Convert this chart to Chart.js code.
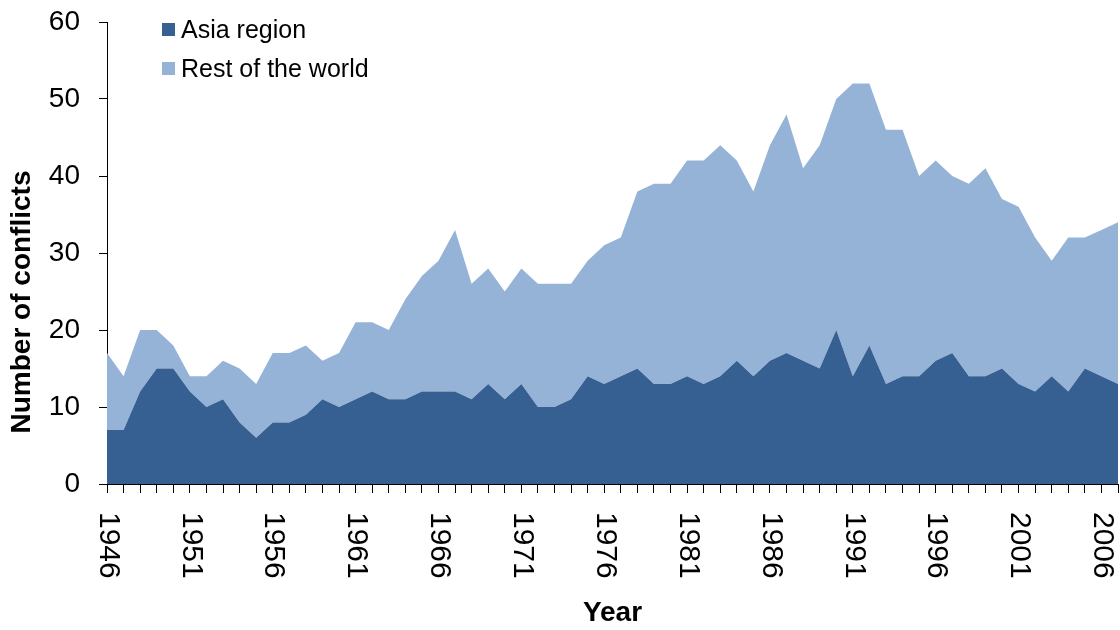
<!DOCTYPE html>
<html>
<head>
<meta charset="utf-8">
<script src="https://cdn.jsdelivr.net/npm/chart.js@4.4.1/dist/chart.umd.min.js"></script>
<style>
  html, body { margin: 0; padding: 0; background: #fff; }
  #wrap { width: 1120px; height: 630px; }
</style>
</head>
<body>
<div id="wrap"><canvas id="myChart"></canvas></div>
<script>
const years = [
  '1946','1947','1948','1949','1950','1951','1952','1953','1954','1955',
  '1956','1957','1958','1959','1960','1961','1962','1963','1964','1965',
  '1966','1967','1968','1969','1970','1971','1972','1973','1974','1975',
  '1976','1977','1978','1979','1980','1981','1982','1983','1984','1985',
  '1986','1987','1988','1989','1990','1991','1992','1993','1994','1995',
  '1996','1997','1998','1999','2000','2001','2002','2003','2004','2005',
  '2006','2007'
];

const asiaRegion = [
  7, 7, 12, 15, 15, 12, 10, 11, 8, 6,
  8, 8, 9, 11, 10, 11, 12, 11, 11, 12,
  12, 12, 11, 13, 11, 13, 10, 10, 11, 14,
  13, 14, 15, 13, 13, 14, 13, 14, 16, 14,
  16, 17, 16, 15, 20, 14, 18, 13, 14, 14,
  16, 17, 14, 14, 15, 13, 12, 14, 12, 15,
  14, 13
];

const restOfWorld = [
  10, 7, 8, 5, 3, 2, 4, 5, 7, 7,
  9, 9, 9, 5, 7, 10, 9, 9, 13, 15,
  17, 21, 15, 15, 14, 15, 16, 16, 15, 15,
  18, 18, 23, 26, 26, 28, 29, 30, 26, 24,
  28, 31, 25, 29, 30, 38, 34, 33, 32, 26,
  26, 23, 25, 27, 22, 23, 20, 15, 20, 17,
  19, 21
];

// only every 5th year gets a label
const shownYears = ['1946','1951','1956','1961','1966','1971','1976','1981','1986','1991','1996','2001','2006'];

const ctx = document.getElementById('myChart').getContext('2d');

// x labels read top to bottom, legend + y title placed like the original
const extras = {
  id: 'extras',
  afterDraw(chart) {
    const c = chart.ctx;
    const xs = chart.scales.x;
    c.save();
    c.fillStyle = '#000';
    c.font = '30px "Liberation Sans", Arial, sans-serif';
    c.textAlign = 'left';
    c.textBaseline = 'middle';
    shownYears.forEach(y => {
      const px = xs.getPixelForValue(years.indexOf(y));
      c.save();
      c.translate(px + 1, xs.top + 28);
      c.rotate(Math.PI / 2);
      c.fillText(y, 0, 0);
      c.restore();
    });

    // y axis title
    c.save();
    c.font = 'bold 28px "Liberation Sans", Arial, sans-serif';
    c.textAlign = 'center';
    c.translate(22, 302);
    c.rotate(-Math.PI / 2);
    c.fillText('Number of conflicts', 0, 0);
    c.restore();

    // legend
    c.font = '25px "Liberation Sans", Arial, sans-serif';
    c.textAlign = 'left';
    chart.data.datasets.forEach((ds, i) => {
      const y = 30 + i * 39;
      c.fillStyle = ds.backgroundColor;
      c.fillRect(162, y - 7, 13, 13);
      c.fillStyle = '#000';
      c.fillText(ds.label, 181, y + 1);
    });
    c.restore();
  }
};

let myAreaChart = new Chart(ctx, {
  type: 'line',
  data: {
    labels: years,
    datasets: [{
      label: 'Asia region',
      data: asiaRegion,
      backgroundColor: '#376092',
      borderColor: '#376092',
      borderWidth: 0,
      pointRadius: 0,
      fill: 'origin'
    }, {
      label: 'Rest of the world',
      data: restOfWorld,
      backgroundColor: '#95b3d7',
      borderColor: '#95b3d7',
      borderWidth: 0,
      pointRadius: 0,
      fill: '-1'
    }]
  },
  options: {
    responsive: true,
    maintainAspectRatio: false,
    animation: false,
    layout: {
      padding: { top: 22, right: 2, left: 0, bottom: 0 }
    },
    plugins: {
      legend: { display: false },
      tooltip: { enabled: false }
    },
    elements: { line: { tension: 0 } },
    scales: {
      x: {
        offset: false,
        grid: { drawOnChartArea: false, drawTicks: true, tickLength: 9, color: '#000' },
        border: { color: '#000', width: 1 },
        ticks: { display: false },
        title: {
          display: true,
          text: 'Year',
          color: '#000',
          font: { family: '"Liberation Sans", Arial, sans-serif', size: 28, weight: 'bold' },
          padding: { top: 0, bottom: 0 }
        },
        afterFit: s => { s.height = 146; }
      },
      y: {
        stacked: true,
        min: 0,
        max: 60,
        grid: { drawOnChartArea: false, drawTicks: true, tickLength: 8, color: '#000' },
        border: { color: '#000', width: 1 },
        ticks: {
          stepSize: 10,
          padding: 19,
          color: '#000',
          font: { family: '"Liberation Sans", Arial, sans-serif', size: 28 }
        },
        afterFit: s => { s.width = 107; s.paddingTop = 0; s.paddingBottom = 0; }
      }
    }
  },
  plugins: [extras]
});
</script>
</body>
</html>
